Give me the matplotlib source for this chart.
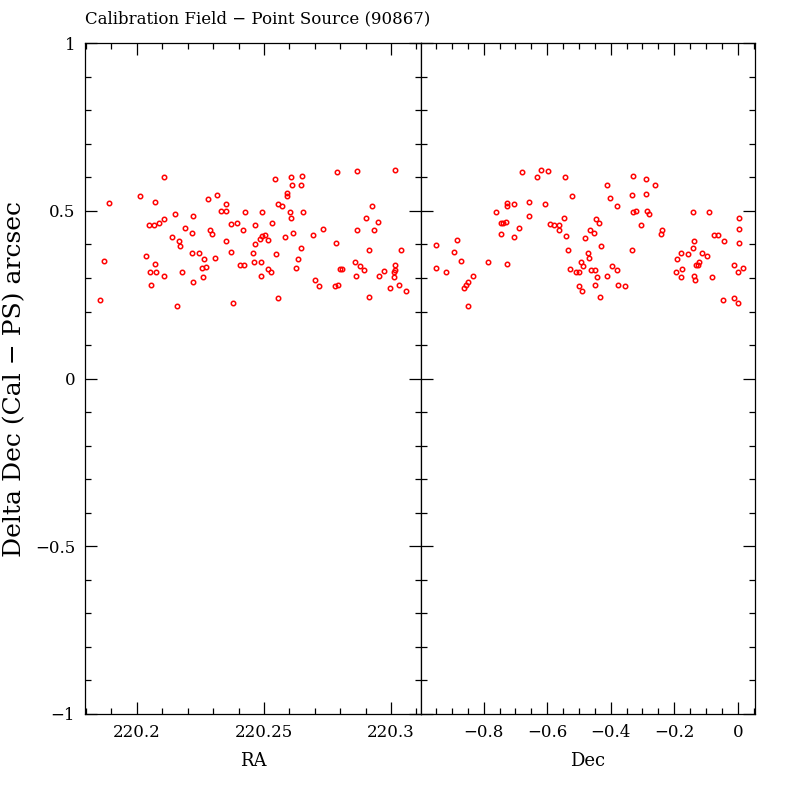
import matplotlib
matplotlib.use("Agg")
import matplotlib.pyplot as plt
from matplotlib.ticker import MultipleLocator, FixedLocator

# values
ra = [220.2108, 220.2013, 220.1891, 220.2072, 220.2278, 220.2317, 220.2349, 220.2329, 220.2349, 220.2424,
      220.2149, 220.2222, 220.2108, 220.2087, 220.2047, 220.2067, 220.2190, 220.2371, 220.2395, 220.2416,
      220.2463, 220.2286, 220.2297, 220.2218, 220.2139, 220.2166, 220.2350, 220.2168, 220.2463, 220.2372,
      220.2217, 220.2246, 220.2458, 220.2037, 220.2265, 220.2307, 220.1871, 220.2072, 220.2461, 220.2407,
      220.2420, 220.2255, 220.2273, 220.2053, 220.2076, 220.2179, 220.2108, 220.2259, 220.2222, 220.2056,
      220.1855, 220.2158, 220.2380, 220.2542, 220.2606, 220.2649, 220.2786, 220.2865, 220.3015, 220.2609,
      220.2645, 220.2592, 220.2592, 220.2554, 220.2570, 220.2491, 220.2602, 220.2652, 220.2608, 220.2530,
      220.2503, 220.2494, 220.2483, 220.2515, 220.2582, 220.2616, 220.2691, 220.2731, 220.2645, 220.2546,
      220.2487, 220.2633, 220.2515, 220.2528, 220.2625, 220.2488, 220.2554, 220.2700, 220.2717, 220.2783,
      220.2780, 220.2791, 220.2925, 220.2900, 220.2949, 220.2866, 220.2933, 220.2912, 220.3040, 220.2859,
      220.2877, 220.2893, 220.2799, 220.2808, 220.2861, 220.2953, 220.2973, 220.3015, 220.3015, 220.3011,
      220.3012, 220.2996, 220.3032, 220.3058, 220.2912]
ddec_ra = [0.602, 0.545, 0.523, 0.527, 0.536, 0.548, 0.522, 0.501, 0.501, 0.498,
           0.491, 0.486, 0.476, 0.465, 0.459, 0.459, 0.450, 0.462, 0.465, 0.444,
           0.458, 0.444, 0.432, 0.433, 0.421, 0.411, 0.411, 0.395, 0.400, 0.378,
           0.375, 0.375, 0.375, 0.367, 0.357, 0.360, 0.350, 0.342, 0.349, 0.339,
           0.339, 0.331, 0.334, 0.317, 0.317, 0.317, 0.306, 0.302, 0.288, 0.280,
           0.234, 0.217, 0.226, 0.594, 0.602, 0.605, 0.616, 0.620, 0.623, 0.576,
           0.576, 0.553, 0.545, 0.522, 0.515, 0.497, 0.497, 0.497, 0.479, 0.465,
           0.428, 0.425, 0.416, 0.413, 0.421, 0.435, 0.428, 0.446, 0.389, 0.372,
           0.349, 0.357, 0.328, 0.317, 0.331, 0.305, 0.241, 0.295, 0.277, 0.404,
           0.277, 0.280, 0.516, 0.479, 0.468, 0.443, 0.443, 0.384, 0.384, 0.349,
           0.335, 0.324, 0.328, 0.328, 0.306, 0.306, 0.321, 0.339, 0.324, 0.317,
           0.303, 0.271, 0.280, 0.262, 0.244]

dec = [-0.949, -0.949, -0.920, -0.883, -0.893, -0.870, -0.833, -0.849, -0.855, -0.862,
       -0.850, -0.785, -0.725, -0.762, -0.747, -0.738, -0.730, -0.746, -0.727, -0.727,
       -0.705, -0.690, -0.705, -0.680, -0.658, -0.656, -0.633, -0.620, -0.598, -0.545,
       -0.607, -0.522, -0.592, -0.578, -0.563, -0.562, -0.547, -0.541, -0.482, -0.464,
       -0.534, -0.528, -0.509, -0.499, -0.501, -0.490, -0.494, -0.487, -0.471, -0.469,
       -0.462, -0.329, -0.288, -0.413, -0.262, -0.333, -0.289, -0.402, -0.380, -0.330,
       -0.319, -0.287, -0.279, -0.446, -0.437, -0.454, -0.304, -0.237, -0.241, -0.431,
       -0.333, -0.450, -0.395, -0.380, -0.443, -0.412, -0.449, -0.377, -0.355, -0.435,
       -0.142, -0.089, 0.003, 0.003, -0.074, -0.061, -0.044, -0.137, 0.005, -0.142,
       -0.179, -0.158, -0.114, -0.096, -0.190, -0.121, -0.126, -0.132, -0.174, -0.193,
       -0.180, -0.138, -0.135, -0.082, -0.013, 0.018, 0.000, -0.045, -0.013, 0.000]
ddec_dec = [0.399, 0.331, 0.317, 0.413, 0.378, 0.350, 0.306, 0.288, 0.279, 0.270,
            0.217, 0.349, 0.342, 0.497, 0.464, 0.465, 0.468, 0.432, 0.523, 0.515,
            0.522, 0.450, 0.421, 0.616, 0.486, 0.527, 0.602, 0.623, 0.619, 0.602,
            0.522, 0.545, 0.462, 0.458, 0.458, 0.444, 0.479, 0.425, 0.418, 0.444,
            0.384, 0.328, 0.317, 0.317, 0.277, 0.261, 0.349, 0.335, 0.375, 0.359,
            0.324, 0.605, 0.594, 0.576, 0.576, 0.548, 0.551, 0.537, 0.516, 0.497,
            0.501, 0.501, 0.490, 0.476, 0.464, 0.435, 0.458, 0.444, 0.432, 0.396,
            0.384, 0.325, 0.335, 0.325, 0.304, 0.306, 0.280, 0.280, 0.277, 0.244,
            0.498, 0.498, 0.480, 0.446, 0.428, 0.428, 0.411, 0.411, 0.404, 0.389,
            0.375, 0.372, 0.375, 0.367, 0.357, 0.349, 0.340, 0.339, 0.328, 0.317,
            0.303, 0.306, 0.295, 0.303, 0.339, 0.331, 0.317, 0.234, 0.241, 0.226]

title = "Calibration Field \u2212 Point Source (90867)"
ylabel = "Delta Dec (Cal \u2212 PS) arcsec"

plt.rcParams['font.family'] = ['DejaVu Serif']
plt.rcParams['axes.unicode_minus'] = True

fig = plt.figure(figsize=(8, 8), dpi=100)
ax1 = fig.add_axes([0.106, 0.1075, 0.420, 0.8385])
ax2 = fig.add_axes([0.526, 0.1075, 0.418, 0.8385], sharey=ax1)


def style(ax):
    ax.tick_params(which='both', direction='in', top=True, right=True,
                   width=0.9, labelsize=12, pad=7)
    ax.tick_params(which='major', length=8.5)
    ax.tick_params(which='minor', length=4.5)
    ax.yaxis.set_major_locator(MultipleLocator(0.5))
    ax.yaxis.set_minor_locator(MultipleLocator(0.1))
    for s in ax.spines.values():
        s.set_linewidth(0.9)


ax1.plot(ra, ddec_ra, 'o', ms=3.2, mfc='none', mec='red', mew=1.1)
ax1.set_xlim(220.1795, 220.3117)
ax1.set_ylim(-1, 1)
ax1.xaxis.set_major_locator(FixedLocator([220.2, 220.25, 220.3]))
ax1.xaxis.set_minor_locator(MultipleLocator(0.01))
ax1.set_xticklabels(['220.2', '220.25', '220.3'])
ax1.set_yticks([-1, -0.5, 0, 0.5, 1])
ax1.set_yticklabels(['\u22121', '\u22120.5', '0', '0.5', '1'])
style(ax1)
ax1.set_xlabel('RA', fontsize=13, labelpad=8)
ax1.set_ylabel(ylabel, fontsize=18, labelpad=6)
ax1.set_title(title, fontsize=12, loc='left', pad=14)

ax2.plot(dec, ddec_dec, 'o', ms=3.2, mfc='none', mec='red', mew=1.1)
ax2.set_xlim(-0.998, 0.055)
ax2.xaxis.set_major_locator(FixedLocator([-0.8, -0.6, -0.4, -0.2, 0]))
ax2.xaxis.set_minor_locator(MultipleLocator(0.05))
ax2.set_xticklabels(['\u22120.8', '\u22120.6', '\u22120.4', '\u22120.2', '0'])
style(ax2)
ax2.tick_params(labelleft=False)
ax2.set_xlabel('Dec', fontsize=13, labelpad=8)

fig.savefig('out.png', dpi=100)
